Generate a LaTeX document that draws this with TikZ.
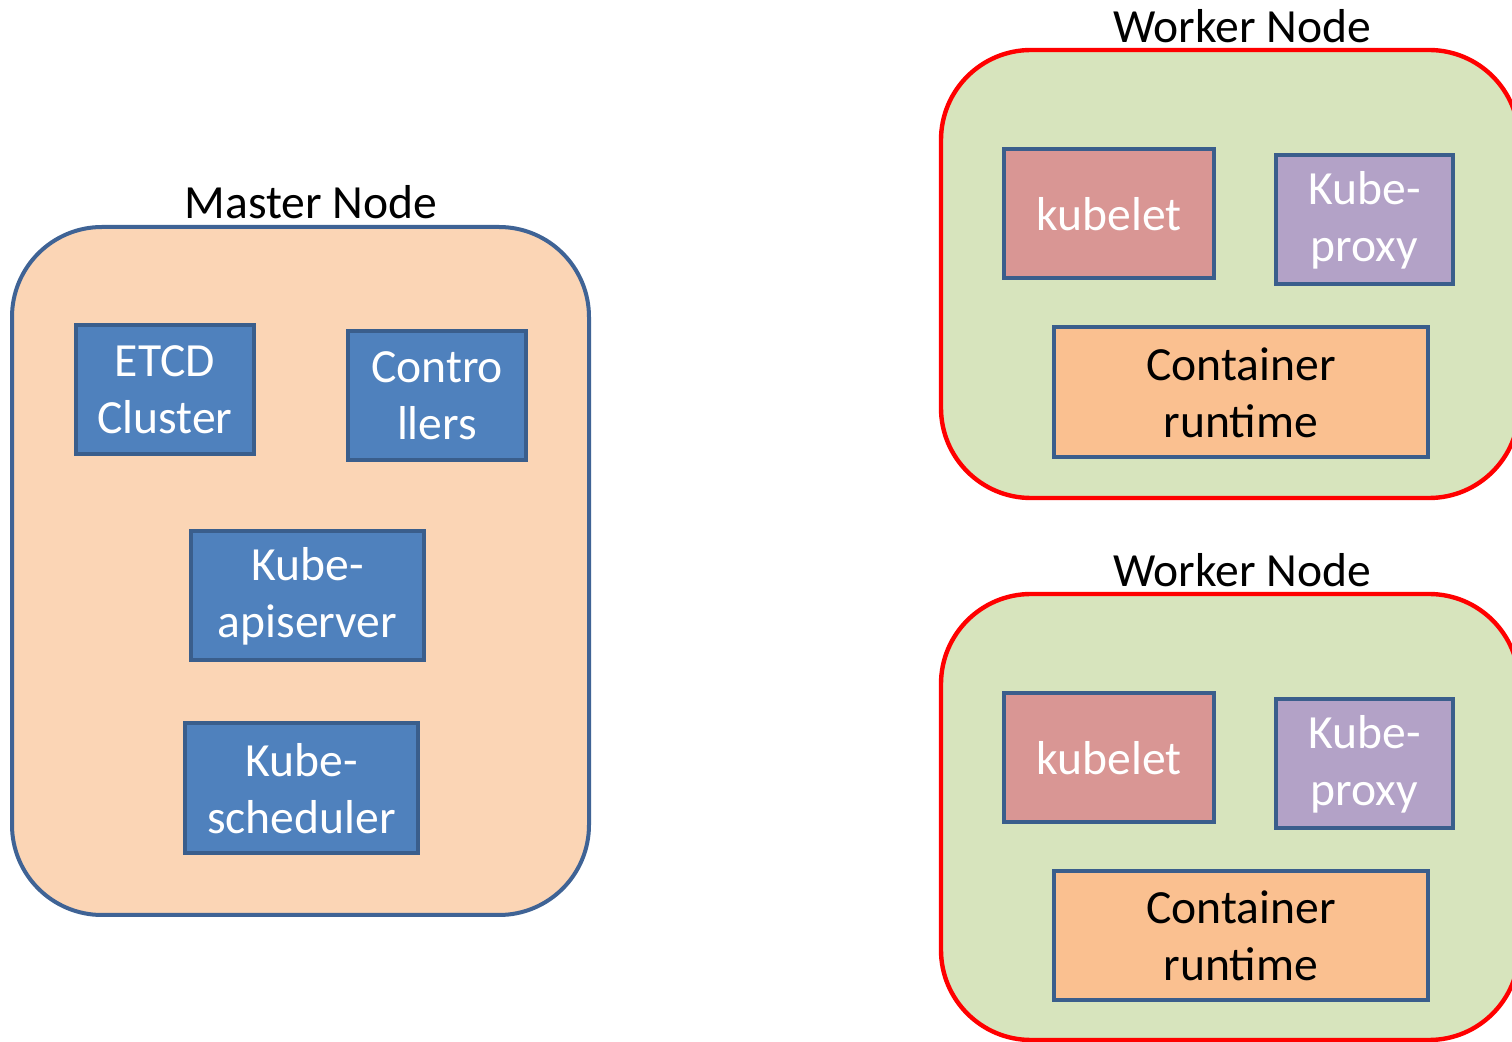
\documentclass[tikz,border=0pt]{standalone}
\usepackage{fontspec}
\setmainfont{Carlito}
\definecolor{masterfill}{HTML}{FBD5B5}
\definecolor{masterline}{HTML}{3F6395}
\definecolor{boxline}{HTML}{3A5E8C}
\definecolor{bluefill}{HTML}{4F81BD}
\definecolor{redfill}{HTML}{D99694}
\definecolor{purplefill}{HTML}{B3A2C7}
\definecolor{orangefill}{HTML}{FAC090}
\definecolor{greenfill}{HTML}{D7E4BD}
\definecolor{redline}{HTML}{FF0000}
\begin{document}
\begin{tikzpicture}[x=0.5pt,y=-0.5pt,
  txt/.style={font=\fontsize{23.8}{28.5}\selectfont, align=center},
  comp/.style={txt, draw=boxline, line width=2pt, inner sep=0pt},
  ttl/.style={font=\fontsize{23.8}{28.5}\selectfont, anchor=base},
]
\useasboundingbox (0,0) rectangle (1512,1042);
\fill[white] (0,0) rectangle (1512,1042);

% Master node
\draw[masterline, fill=masterfill, line width=2pt, rounded corners=45pt] (12,227) rectangle (589,915);
\node[ttl] (mastertitle) at (311,219) {Master Node};
\node[comp, fill=bluefill, text=white, minimum width=89pt, minimum height=64.5pt] (etcd) at (165,390) {ETCD\\Cluster};
\node[comp, fill=bluefill, text=white, minimum width=89pt, minimum height=64.5pt] (ctrl) at (437,396) {Contro\\llers};
\node[comp, fill=bluefill, text=white, minimum width=116.5pt, minimum height=64.5pt] (api) at (307.5,596) {Kube-\\apiserver};
\node[comp, fill=bluefill, text=white, minimum width=116.5pt, minimum height=65pt] (sched) at (301.5,788.5) {Kube-\\scheduler};

% Worker node 1
\draw[redline, fill=greenfill, line width=2.2pt, rounded corners=45pt] (941,50) rectangle (1519,498);
\node[ttl] (w1title) at (1242,43) {Worker Node};
\node[comp, fill=redfill, text=white, minimum width=105pt, minimum height=64.5pt] (kubelet1) at (1109,214) {kubelet};
\node[comp, fill=purplefill, text=white, minimum width=88.5pt, minimum height=64.5pt] (proxy1) at (1364.5,220) {Kube-\\proxy};
\node[comp, fill=orangefill, text=black, minimum width=187pt, minimum height=65pt] (cr1) at (1241,392.5) {Container\\runtime};

% Worker node 2
\draw[redline, fill=greenfill, line width=2.2pt, rounded corners=45pt] (941,594) rectangle (1519,1040);
\node[ttl] (w2title) at (1242,587) {Worker Node};
\node[comp, fill=redfill, text=white, minimum width=105pt, minimum height=64.5pt] (kubelet2) at (1109,758) {kubelet};
\node[comp, fill=purplefill, text=white, minimum width=88.5pt, minimum height=64.5pt] (proxy2) at (1364.5,764) {Kube-\\proxy};
\node[comp, fill=orangefill, text=black, minimum width=187pt, minimum height=64.5pt] (cr2) at (1241,936) {Container\\runtime};
\end{tikzpicture}
\end{document}
